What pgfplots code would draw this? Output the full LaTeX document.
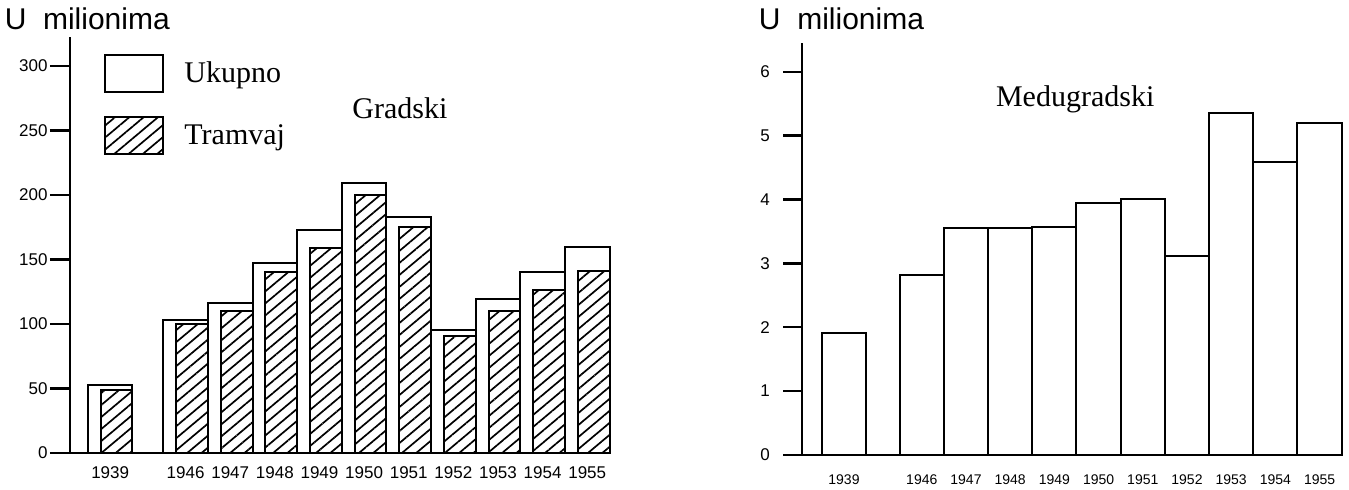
\documentclass[border=0pt]{standalone}
\usepackage{pgfplots}
\pgfplotsset{compat=1.18}
\usepackage{fontspec}
\setmainfont{Liberation Serif}
\newfontfamily\sansf{Liberation Sans}
\usetikzlibrary{patterns.meta}

\begin{document}
\begin{tikzpicture}
\useasboundingbox (0,0) rectangle (674.5pt,245pt);
\pgfplotsset{
 base/.style={
  scale only axis, axis lines=left, axis line style={-, line width=1.3pt},
  tick align=outside,
  ymin=0, clip=false, xtick style={draw=none},
  ytick style={line width=1.2pt, black},
  /pgf/number format/assume math mode=true,
  ticklabel style={font=\sansf\fontsize{8.5}{10}\selectfont},
  xticklabel style={anchor=north, inner sep=0pt},
  ylabel style={rotate=-90, font=\sansf\fontsize{15}{18}\selectfont, anchor=center},
 },
 boxlegend/.style={legend image code/.code={\draw[##1, line width=1pt] (0pt,-9.25pt) rectangle (29pt,9.25pt);}},
}
\begin{axis}[base, at={(35pt,18.5pt)}, anchor=south west, width=270pt, height=208pt,
  major tick length=10pt,
  xmin=-0.9, xmax=11.2, ymax=322.5, ytick={0,50,...,300},
  yticklabel style={inner sep=1pt},
  xticklabel style={yshift=3.25pt},
  xtick={0,1.69,2.69,3.69,4.69,5.69,6.69,7.69,8.69,9.69,10.69},
  xticklabels={1939,1946,1947,1948,1949,1950,1951,1952,1953,1954,1955},
  ylabel={U\ \ milionima}, ylabel style={at={(axis description cs:0.032,1.043)}},
  legend style={at={(axis description cs:0.063,0.959)}, anchor=north west, draw=none, fill=none,
    inner sep=0pt, row sep=11.5pt, font=\fontsize{15}{18}\selectfont, cells={anchor=west},
    nodes={inner sep=0pt}, /tikz/every odd column/.append style={column sep=10pt}},
]
\addplot[ybar, bar width=1, bar shift=0, draw=black, line width=1pt, fill=white, boxlegend]
 coordinates {(0,53) (1.69,103) (2.69,116) (3.69,147) (4.69,173) (5.69,209) (6.69,183) (7.69,95) (8.69,119) (9.69,140) (10.69,160)};
\addlegendentry{Ukupno}
\addplot[ybar, bar width=0.71, bar shift=0.145, draw=black, line width=1pt,
  pattern={Lines[angle=40,distance=4.6pt,line width=0.85pt]}, boxlegend]
 coordinates {(0,49) (1.69,100) (2.69,110) (3.69,140) (4.69,159) (5.69,200) (6.69,175) (7.69,91) (8.69,110) (9.69,126) (10.69,141)};
\addlegendentry{Tramvaj}
\node[font=\fontsize{15}{18}\selectfont] at (rel axis cs:0.611,0.829) {Gradski};
\end{axis}

\begin{axis}[base, at={(401pt,17.5pt)}, anchor=south west, width=270.5pt, height=206pt,
  major tick length=9.5pt,
  xmin=-0.95, xmax=11.29, ymax=6.45, ytick={0,1,...,6},
  yticklabel style={xshift=-3pt},
  xticklabel style={font=\sansf\fontsize{7}{9}\selectfont},
  xtick={0,1.76,2.76,3.76,4.76,5.76,6.76,7.76,8.76,9.76,10.76},
  xticklabels={1939,1946,1947,1948,1949,1950,1951,1952,1953,1954,1955},
  ylabel={U\ \ milionima}, ylabel style={at={(axis description cs:0.073,1.058)}},
]
\addplot[ybar, bar width=1, bar shift=0, draw=black, line width=1pt, fill=white]
 coordinates {(0,1.91) (1.76,2.82) (2.76,3.55) (3.76,3.56) (4.76,3.57) (5.76,3.95) (6.76,4.01) (7.76,3.12) (8.76,5.36) (9.76,4.58) (10.76,5.19)};
\node[font=\fontsize{15}{18}\selectfont] at (rel axis cs:0.505,0.863) {Medugradski};
\end{axis}
\end{tikzpicture}
\end{document}
